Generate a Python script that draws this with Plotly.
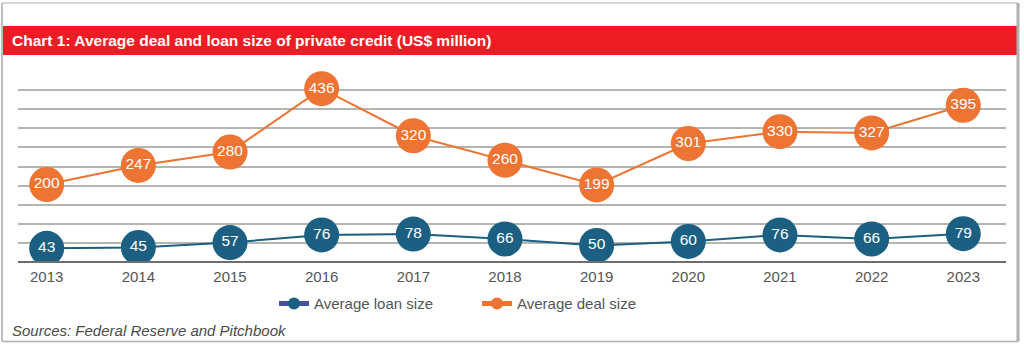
import plotly.graph_objects as go

years = ["2013", "2014", "2015", "2016", "2017", "2018", "2019", "2020", "2021", "2022", "2023"]
loan_size = [43, 45, 57, 76, 78, 66, 50, 60, 76, 66, 79]
deal_size = [200, 247, 280, 436, 320, 260, 199, 301, 330, 327, 395]

title_text = "Chart 1: Average deal and loan size of private credit (US$ million)"
source_text = "Sources: Federal Reserve and Pitchbook"

ORANGE = "#EE7433"
TEAL = "#1B6082"
RED = "#EE1D25"
FONT = "Liberation Sans, Arial, Helvetica, sans-serif"

W, H = 1024, 346
L, R, T, B = 18, 1006, 71, 262.3
PW, PH = R - L, B - T


def px(x):
    return (x - L) / PW


def py(y):
    return (B - y) / PH


xi = list(range(len(years)))

fig = go.Figure()

for vals, color in ((deal_size, ORANGE), (loan_size, TEAL)):
    fig.add_trace(go.Scatter(
        x=xi, y=vals, mode="lines+markers",
        line=dict(color=color, width=2),
        marker=dict(color=color, size=35),
        showlegend=False, hoverinfo="skip"))
    fig.add_trace(go.Scatter(
        x=xi, y=vals, mode="text", text=[str(v) for v in vals],
        textposition="middle center",
        textfont=dict(color="white", size=15.5, family=FONT),
        showlegend=False, hoverinfo="skip"))

# legend entries
fig.add_trace(go.Scatter(
    x=[None], y=[None], mode="lines+markers", name="Average loan size",
    line=dict(color="#4650A6", width=3), marker=dict(color=TEAL, size=11)))
fig.add_trace(go.Scatter(
    x=[None], y=[None], mode="lines+markers", name="Average deal size",
    line=dict(color=ORANGE, width=3), marker=dict(color=ORANGE, size=11)))

y0, y1 = 9.3, 479.4
fig.update_layout(
    width=W, height=H,
    margin=dict(l=L, r=W - R, t=T, b=H - B, pad=0),
    paper_bgcolor="white", plot_bgcolor="white",
    font=dict(family=FONT, size=15, color="#555555"),
    xaxis=dict(
        range=[-0.313, 10.466], tickmode="array", tickvals=xi, ticktext=years,
        showgrid=False, zeroline=False, showline=False, ticks="",
        ticklabelstandoff=4,
        tickfont=dict(size=15, color="#555555", family=FONT), fixedrange=True),
    yaxis=dict(
        range=[y0, y1], tick0=y0, dtick=(y1 - y0) / 10, showticklabels=False,
        showgrid=True, gridcolor="#B5B5B0", gridwidth=1.5, zeroline=False,
        showline=False, ticks="", fixedrange=True),
    legend=dict(
        orientation="h", x=px(274), xanchor="left", y=py(304), yanchor="middle",
        font=dict(size=15, color="#555555", family=FONT),
        itemsizing="constant", entrywidth=158, entrywidthmode="pixels",
        bgcolor="rgba(0,0,0,0)"),
    shapes=[
        # bottom axis line
        dict(type="line", xref="paper", yref="paper", x0=0, x1=1, y0=0, y1=0,
             line=dict(color="#6E6E6A", width=2), layer="above"),
        # red title bar
        dict(type="rect", xref="paper", yref="paper", x0=px(3), x1=px(1017),
             y0=py(55), y1=py(26), fillcolor=RED, line=dict(width=0)),
        # outer frame
        dict(type="line", xref="paper", yref="paper", x0=px(2), x1=px(2),
             y0=py(3), y1=py(342), line=dict(color="#A8A8A8", width=1.5)),
        dict(type="line", xref="paper", yref="paper", x0=px(2), x1=px(1018),
             y0=py(3), y1=py(3), line=dict(color="#C8C8C8", width=1.5)),
        dict(type="line", xref="paper", yref="paper", x0=px(1018), x1=px(1018),
             y0=py(3), y1=py(342), line=dict(color="#B0B0B0", width=3)),
        dict(type="line", xref="paper", yref="paper", x0=px(2), x1=px(1018),
             y0=py(342), y1=py(342), line=dict(color="#B0B0B0", width=1.5)),
    ],
    annotations=[
        dict(text="<b>" + title_text + "</b>", xref="paper", yref="paper",
             x=px(10), y=py(40.5), xanchor="left", yanchor="middle",
             showarrow=False, font=dict(color="white", size=15.5, family=FONT)),
        dict(text="<i>" + source_text + "</i>", xref="paper", yref="paper",
             x=px(10), y=py(331), xanchor="left", yanchor="middle",
             showarrow=False, font=dict(color="#4A4A4A", size=15, family=FONT)),
    ],
)

fig.write_html("out.html", config=dict(displayModeBar=False))
